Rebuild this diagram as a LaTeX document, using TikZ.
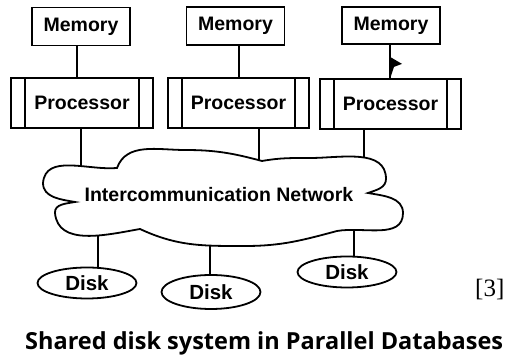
\documentclass[tikz,border=0pt]{standalone}
\usepackage{fontspec}
\setmainfont{Liberation Serif}
\newfontfamily\labelfont{Liberation Sans}
\newfontfamily\captionfont{Open Sans}
\usetikzlibrary{shapes.geometric,calc}
\pgfdeclarelayer{background}
\pgfsetlayers{background,main}

\begin{document}
\begin{tikzpicture}[x=1pt, y=1pt, line width=1.8pt,
  box/.style={draw, fill=white, inner sep=0pt,
    font=\labelfont\bfseries\fontsize{19.5}{20}\selectfont},
  membox/.style={box, minimum width=98pt, minimum height=38pt},
  procbox/.style={box, minimum width=141pt, minimum height=50pt,
    path picture={
      \draw ([xshift=14pt]path picture bounding box.south west) -- ([xshift=14pt]path picture bounding box.north west);
      \draw ([xshift=-14pt]path picture bounding box.south east) -- ([xshift=-14pt]path picture bounding box.north east);}},
  diskbox/.style={box, ellipse, minimum width=99pt, minimum height=31pt,
    font=\labelfont\bfseries\fontsize{20.5}{21}\selectfont},
  link/.style={line width=1.6pt}
]
\useasboundingbox (0,0) rectangle (512,356);

% memories and processors
\node[membox] (mem1) at (81,329.5) {Memory};
\node[membox] (mem2) at (235.5,330) {Memory};
\node[membox, minimum height=37pt] (mem3) at (391,330.5) {Memory};
\node[procbox, minimum width=142pt] (p1) at (82,253) {Processor};
\node[procbox] (p2) at (238.5,253) {Processor};
\node[procbox] (p3) at (390.5,252) {Processor};

% the network cloud
\draw[fill=white] (43,173) to[out=85,in=185] (117,188)
  to[out=70,in=180] (185,206) to[out=0,in=165] (262,195)
  to[out=10,in=180] (310,198) to[out=0,in=90] (386,177)
  to[out=-90,in=20] (368,163) to[out=-10,in=90] (403,143)
  to[out=-90,in=10] (337,125) to[out=195,in=0] (245,110)
  to[out=180,in=-25] (140,127) to[out=190,in=-85] (55,143)
  to[out=95,in=190] (75,154) to[out=170,in=-90] (43,173) -- cycle;
\node[inner sep=0pt, font=\labelfont\bfseries\fontsize{19.5}{20}\selectfont] (net) at (219,161) {Intercommunication Network};

% disks
\node[diskbox] (d1) at (87,73) {Disk};
\node[diskbox, minimum height=34pt] (d2) at (211,64) {Disk};
\node[diskbox] (d3) at (347,84) {Disk};

% connector end points
\coordinate (m1a) at ([xshift=-4pt]mem1.south);
\coordinate (m2a) at ([xshift=3.5pt]mem2.south);
\coordinate (m3a) at ([xshift=-1pt]mem3.south);
\coordinate (q1) at ([xshift=-1pt]p1.south);
\coordinate (q2) at ([xshift=20.5pt]p2.south);
\coordinate (q3) at ([xshift=-26.5pt]p3.south);
\coordinate (k1) at ([xshift=11pt]d1.center);
\coordinate (k2) at ([xshift=-1pt]d2.center);
\coordinate (k3) at ([xshift=7pt]d3.center);

\begin{pgfonlayer}{background}
  \draw[link] (m1a) -- (m1a |- p1.north);
  \draw[link] (m2a) -- (m2a |- p2.north);
  \draw[link] (m3a) -- (m3a |- p3.north);
  \draw[link] (q1) -- (q1 |- net.center);
  \draw[link] (q2) -- (q2 |- net.center);
  \draw[link] (q3) -- (q3 |- net.center);
  \draw[link] (k1 |- net.center) -- (k1);
  \draw[link] (k2 |- net.center) -- (k2);
  \draw[link] (k3 |- net.center) -- (k3);
\end{pgfonlayer}

% barb on the third memory link
\fill ($(m3a)+(0,-12)$) -- ++(12,-7) -- ++(-8,-3) -- ++(-3,-9) -- cycle;

% caption and reference mark
\node[anchor=base west, inner sep=0pt,
  font=\captionfont\bfseries\fontsize{23.5}{24}\selectfont] (cap) at (25,6)
  {Shared disk system in Parallel Databases};
\node[anchor=base west, inner sep=0pt, font=\fontsize{25}{25}\selectfont] (refmark) at (475,59) {[3]};
\end{tikzpicture}
\end{document}
